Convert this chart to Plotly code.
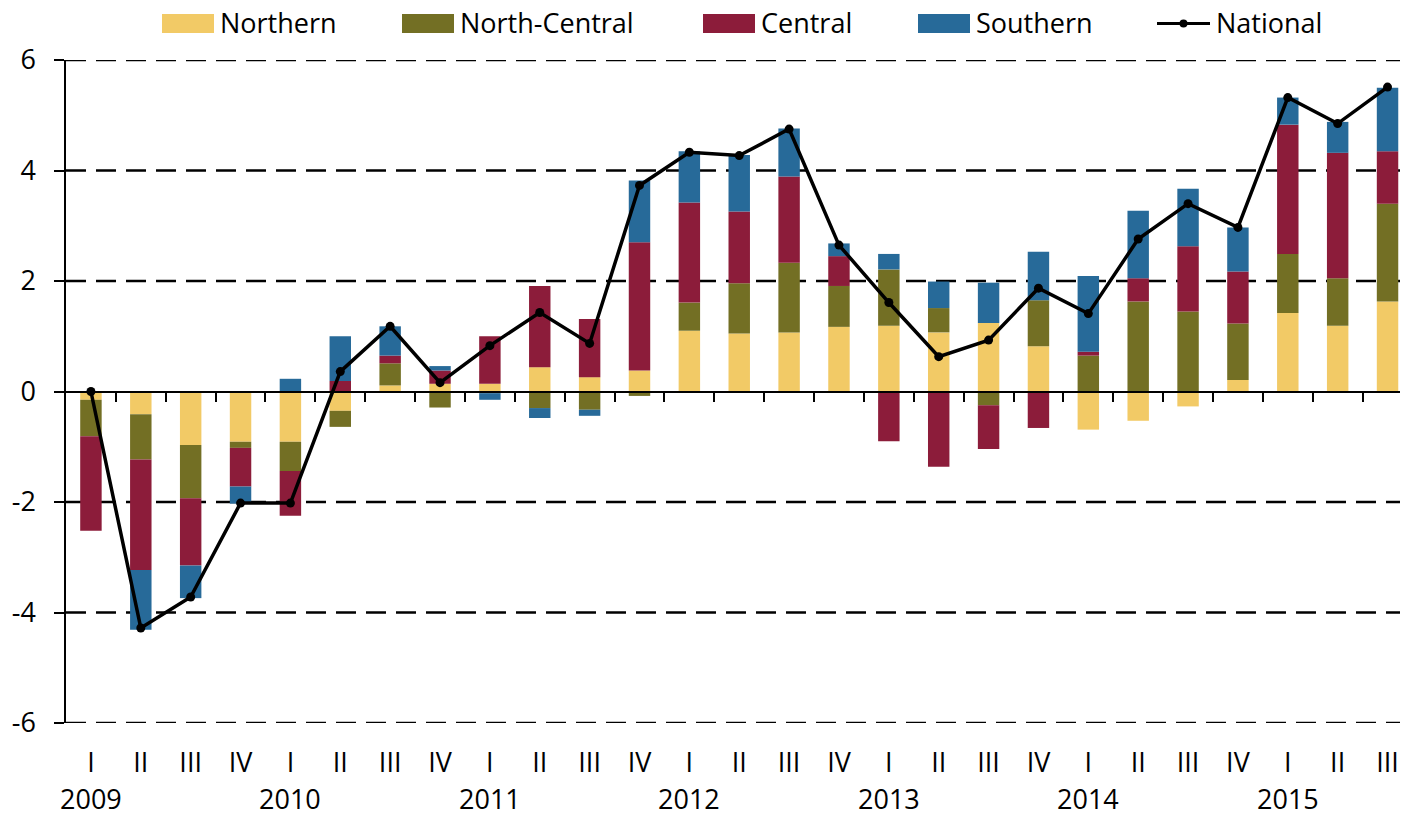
import plotly.graph_objects as go

# ---------------- data ----------------
quarters = ["I", "II", "III", "IV"] * 6 + ["I", "II", "III"]
years = ["2009", "2010", "2011", "2012", "2013", "2014", "2015"]

northern = [-0.15, -0.41, -0.97, -0.91, -0.91, -0.35, 0.11, 0.14, 0.14, 0.44, 0.26, 0.38,
            1.10, 1.05, 1.07, 1.17, 1.19, 1.07, 1.24, 0.82, -0.69, -0.53, -0.27, 0.21,
            1.42, 1.19, 1.63]
north_central = [-0.66, -0.82, -0.96, -0.11, -0.53, -0.29, 0.40, -0.29, -0.03, -0.30, -0.33, -0.08,
                 0.51, 0.91, 1.26, 0.74, 1.02, 0.44, -0.25, 0.83, 0.65, 1.63, 1.45, 1.02,
                 1.07, 0.86, 1.77]
central = [-1.71, -2.00, -1.22, -0.70, -0.81, 0.19, 0.14, 0.24, 0.86, 1.47, 1.05, 2.32,
           1.81, 1.30, 1.56, 0.54, -0.90, -1.36, -0.79, -0.66, 0.07, 0.42, 1.18, 0.94,
           2.34, 2.27, 0.95]
southern = [0.00, -1.08, -0.59, -0.31, 0.23, 0.81, 0.53, 0.08, -0.12, -0.18, -0.11, 1.12,
            0.93, 1.02, 0.87, 0.23, 0.28, 0.48, 0.73, 0.88, 1.37, 1.22, 1.04, 0.80,
            0.49, 0.56, 1.15]
national = [0.00, -4.28, -3.72, -2.02, -2.02, 0.36, 1.18, 0.16, 0.83, 1.43, 0.87, 3.73,
            4.33, 4.27, 4.75, 2.65, 1.61, 0.63, 0.93, 1.87, 1.41, 2.76, 3.40, 2.97,
            5.32, 4.85, 5.51]

series_names = ["Northern", "North-Central", "Central", "Southern"]
series_vals = [northern, north_central, central, southern]
series_colors = ["#F2CA66", "#736F24", "#8C1C3A", "#276A99"]

y_ticks = [-6, -4, -2, 0, 2, 4, 6]
y_ticktext = [str(v) for v in y_ticks]
grid_vals = [-6, -4, -2, 2, 4, 6]

# ---------------- layout constants ----------------
W, H = 1402, 818
L, R, T, B = 66, 2, 60, 95
XR = [-0.5, 26.25]
FONT = "Open Sans, Liberation Sans, sans-serif"
FS = 27

x = list(range(len(quarters)))


def px_x(p):
    return (p - L) / (W - L - R)


def px_y(p):
    return (H - B - p) / (H - T - B)


fig = go.Figure()
for name, vals, col in zip(series_names, series_vals, series_colors):
    fig.add_trace(go.Bar(x=x, y=vals, name=name, width=0.43,
                         marker=dict(color=col, line=dict(width=0)),
                         showlegend=False))

fig.add_trace(go.Scatter(x=x, y=national, name="National", mode="lines+markers",
                         line=dict(color="black", width=3.5),
                         marker=dict(size=9, color="black"),
                         xaxis="x2", showlegend=False))

shapes = []
for v in grid_vals:
    shapes.append(dict(type="line", xref="paper", yref="y", x0=0, x1=1, y0=v, y1=v,
                       line=dict(color="black", width=2.5, dash="20px,10px"), layer="below"))

# manual legend
legend_starts = [162, 402, 703, 918]
sw_w = 52
annotations = []
for name, col, xs in zip(series_names, series_colors, legend_starts):
    shapes.append(dict(type="rect", xref="paper", yref="paper",
                       x0=px_x(xs), x1=px_x(xs + sw_w), y0=px_y(33), y1=px_y(14),
                       fillcolor=col, line=dict(width=0)))
    annotations.append(dict(text=name, xref="paper", yref="paper", x=px_x(xs + sw_w + 4),
                            y=px_y(23), xanchor="left", yanchor="middle", showarrow=False,
                            font=dict(family=FONT, size=FS, color="black")))
nat_x0, nat_x1 = 1157, 1210
shapes.append(dict(type="line", xref="paper", yref="paper", x0=px_x(nat_x0), x1=px_x(nat_x1),
                   y0=px_y(23.5), y1=px_y(23.5), line=dict(color="black", width=3)))
shapes.append(dict(type="circle", xref="paper", yref="paper",
                   x0=px_x(1179.5), x1=px_x(1187.5), y0=px_y(27.5), y1=px_y(19.5),
                   fillcolor="black", line=dict(width=0)))
annotations.append(dict(text="National", xref="paper", yref="paper", x=px_x(nat_x1 + 4),
                        y=px_y(23), xanchor="left", yanchor="middle", showarrow=False,
                        font=dict(family=FONT, size=FS, color="black")))

# year labels under the first quarter of each year
for i, yr in enumerate(years):
    annotations.append(dict(text=yr, xref="x", yref="paper", x=x[i * 4], y=px_y(818),
                            xanchor="center", yanchor="bottom", showarrow=False, borderpad=0,
                            font=dict(family=FONT, size=FS, color="black")))

fig.update_layout(
    width=W, height=H,
    margin=dict(l=L, r=R, t=T, b=B, pad=0, autoexpand=False),
    barmode="relative",
    plot_bgcolor="white", paper_bgcolor="white",
    font=dict(family=FONT, size=FS, color="black"),
    showlegend=False,
    xaxis=dict(range=XR, anchor="free", position=0.5, showline=True, linecolor="black",
               linewidth=1.5, ticks="outside", tickvals=[i + 0.5 for i in x[:-1]],
               ticklen=10, tickwidth=1.5, tickcolor="black", showticklabels=False,
               showgrid=False, zeroline=False, automargin=False),
    xaxis2=dict(range=XR, overlaying="x", anchor="y", side="bottom", tickvals=x,
                ticktext=quarters, showline=False, showgrid=False, zeroline=False,
                ticks="", ticklabelstandoff=21, automargin=False,
                tickfont=dict(family=FONT, size=FS, color="black")),
    yaxis=dict(range=[-6, 6], tickvals=y_ticks, ticktext=y_ticktext, showline=True,
               linecolor="black", linewidth=1.5, ticks="outside", ticklen=10, tickwidth=1.5,
               tickcolor="black", showgrid=False, zeroline=False, ticklabelstandoff=13,
               automargin=False,
               tickfont=dict(family=FONT, size=FS, color="black")),
    shapes=shapes,
    annotations=annotations,
)

# remove the default 8px page margin so the figure fills the window exactly
fig.write_html("out.html", config={"displayModeBar": False},
               post_script="document.body.style.margin='0';")
